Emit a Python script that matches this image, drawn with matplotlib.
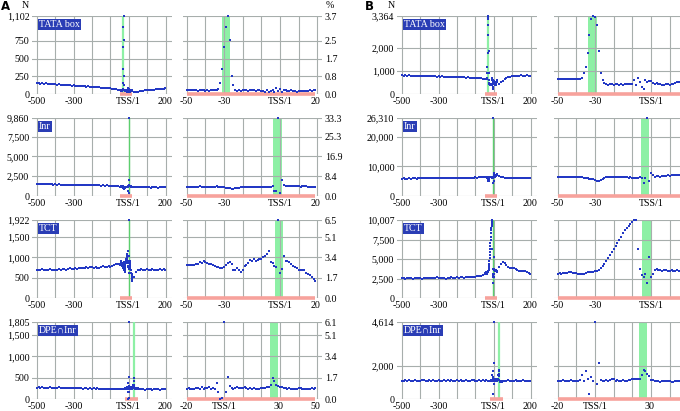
import matplotlib
matplotlib.use("Agg")
import matplotlib.pyplot as plt

W, H = 680, 411
fig = plt.figure(figsize=(W / 100, H / 100), dpi=100)

SERIF = ['Liberation Serif', 'DejaVu Serif']
BLUE = '#2338c4'
BOX = '#2a3db5'
GRID = '#a7aeac'
RED = '#f7a29c'
GREEN = '#8df0a5'
GREEN_DARK = '#5ccf6e'

# ---------------- positions (relative to TSS, no position 0) ----------------
pos_far_up = list(range(-500, -59, 10))
pos_zoom = list(range(-50, 0)) + list(range(1, 21))
pos_far_dn = list(range(30, 201, 10))
pos_far_up_dpe = list(range(-500, -29, 10))
pos_zoom_dpe = list(range(-20, 0)) + list(range(1, 51))
pos_far_dn_dpe = list(range(60, 201, 10))

motifs = ['TATA box', 'Inr', 'TCT', 'DPE∩Inr']

# ---------------- panel A ----------------
A_TATA_far_up = [150, 160, 140, 155, 145, 150, 138, 148, 140, 135, 142, 130, 138, 128, 133,
                 125, 130, 122, 127, 118, 125, 115, 120, 112, 116, 108, 112, 104, 108, 100,
                 104, 96, 100, 92, 95, 88, 90, 84, 86, 80, 82, 76, 72, 68, 62]
A_TATA_zoom = [55, 60, 52, 58, 50, 55, 48, 52, 55, 50, 45, 52, 48, 55, 58, 50, 62, 70,
               160, 355, 670, 940, 1102, 757, 255, 128,
               60, 45, 50, 48, 52, 50, 55, 48, 52, 58, 50, 45, 55, 50, 48, 40, 35, 55, 30, 45, 60, 25, 80, 40,
               65, 30, 55, 50, 45, 40, 52, 45, 38, 35, 42, 40, 45, 38, 42, 48, 50, 45, 60, 52]
A_TATA_far_dn = [32, 28, 35, 40, 45, 48, 52, 50, 55, 58, 60, 62, 65, 68, 70, 72, 76, 80]

A_Inr_far_up = [1520, 1490, 1510, 1480, 1500, 1470, 1490, 1460, 1480, 1450, 1470, 1440, 1460, 1430, 1450,
                1420, 1440, 1410, 1430, 1400, 1420, 1390, 1410, 1380, 1400, 1370, 1390, 1360, 1380, 1350,
                1370, 1340, 1360, 1330, 1350, 1320, 1340, 1310, 1330, 1300, 1320, 1290, 1280, 1260, 1250]
A_Inr_zoom = [1180, 1150, 1200, 1170, 1160, 1190, 1200, 1220, 1180, 1150, 1170, 1200, 1180, 1160, 1150,
              1190, 1210, 1180, 1200, 1150, 1100, 1050, 1000, 960,
              920, 900, 950, 1000, 1060,
              1100, 1120, 1150, 1140, 1170, 1180, 1150, 1130, 1160, 1190, 1170, 1150, 1140, 1160, 1180,
              1170, 1200, 1300,
              650, 630, 9860,
              420, 2020, 1400, 1300, 1250, 1280, 1240, 1260, 1220, 1250, 1230, 1200, 1240, 1210, 1220,
              1190, 1200, 1180, 1170, 1150]
A_Inr_far_dn = [1120, 1100, 1130, 1090, 1110, 1080, 1100, 1090, 1110, 1070, 1100, 1080, 1090, 1070, 1100,
                1080, 1090, 1100]

A_TCT_far_up = [690, 700, 680, 710, 690, 700, 685, 705, 690, 680, 700, 690, 710, 695, 705,
                720, 700, 715, 730, 710, 725, 740, 720, 735, 750, 730, 745, 760, 740, 755,
                770, 745, 760, 750, 740, 765, 780, 760, 775, 790, 770, 800, 810, 830, 850]
A_TCT_zoom = [820, 815, 825, 818, 822, 830, 850, 880, 860, 900,
              880, 860, 850, 830, 810, 790, 775, 770, 750, 730,
              760, 820, 860, 878, 850, 700, 689, 740, 700, 648,
              700, 790, 820, 860, 930, 900, 952, 900, 930, 950,
              960, 1000, 1030, 1080, 1163, 880, 853, 800, 760, 1922,
              623, 720, 1033, 900, 918, 880, 850, 800, 770, 740,
              700, 690, 700, 680, 620, 600, 560, 510, 470, 430]
A_TCT_far_dn = [520, 640, 700, 690, 710, 700, 680, 720, 700, 690, 710, 700, 680, 700, 720, 690, 710, 700]

A_DPE_far_up = [265, 270, 255, 275, 260, 268, 258, 272, 262, 255, 268, 260, 270, 255, 262, 258,
                265, 250, 260, 255, 262, 250, 258, 248, 255, 245, 252, 258, 245, 250, 240, 248,
                242, 250, 238, 245, 240, 235, 242, 230, 238, 228, 235, 225, 232, 240, 225, 230]
A_DPE_zoom = [226, 250, 235, 230, 240, 250, 250, 245, 273, 230, 260, 250, 273, 240, 250, 230,
              367, 172, 0, 16,
              1805, 172, 507, 304,
              250, 240, 260, 273, 260, 255, 262, 280, 262, 240, 250, 226, 250, 230, 240, 226, 250, 255,
              262, 270, 280,
              335, 491, 413, 330, 304,
              290, 270, 262, 250, 240, 250, 226, 230, 226, 240, 250, 250, 226, 240, 230, 226, 226, 250,
              240, 250]
A_DPE_far_dn = [240, 225, 230, 220, 235, 225, 230, 220, 240, 225, 230, 220, 235, 225, 230]

A_yticks = [[0, 250, 500, 750, 1102], [0, 2500, 5000, 7500, 9860],
            [0, 500, 1000, 1500, 1922], [0, 500, 1000, 1500, 1805]]
A_pct = [['0.0', '0.8', '1.7', '2.5', '3.7'], ['0.0', '8.4', '16.9', '25.3', '33.3'],
         ['0.0', '1.7', '3.4', '5.1', '6.5'], ['0.0', '1.7', '3.4', '5.1', '6.1']]
# motif bands in index units of the zoomed axis
A_band = [(-30.9, -26.6), (-3.5, 0.9), (-2.6, 1.7), (24.6, 29.0)]

# ---------------- panel B ----------------
B_TATA_far_up = [800, 790, 810, 795, 800, 785, 790, 780, 795, 775, 785, 770, 780, 765, 775,
                 760, 770, 755, 765, 750, 760, 745, 755, 740, 750, 735, 745, 730, 740, 725,
                 735, 720, 730, 715, 725, 710, 720, 700, 710, 695, 700, 680, 690, 670, 660]
B_TATA_zoom = [650, 640, 660, 630, 645, 650, 635, 640, 655, 630, 640, 650, 660,
               700, 907, 1156, 1756, 2544, 3218, 3364, 3320, 2955, 1858, 907, 620, 468,
               420, 400, 410, 420, 400, 410, 420, 405, 410, 400, 415, 420, 430, 450, 420, 590, 385, 680,
               500, 297, 208, 622, 503, 540,
               547, 474, 450, 474, 430, 420, 400, 400, 410, 420, 400, 420, 450, 474, 500, 520, 547, 560,
               580, 600]
B_TATA_far_dn = [450, 520, 580, 650, 700, 730, 750, 770, 780, 760, 790, 770, 800, 780, 790, 800, 780, 790]

B_Inr_far_up = [5900, 5950, 5850, 5900, 5950, 5880, 5920, 5960, 5900, 5950, 6000, 5950, 5980, 6020, 5960,
                6000, 6050, 5990, 6030, 6080, 6020, 6060, 6100, 6040, 6080, 6120, 6060, 6100, 6150, 6090,
                6130, 6180, 6120, 6160, 6200, 6150, 6190, 6240, 6180, 6220, 6260, 6200, 6250, 6300, 6350]
B_Inr_zoom = [6500, 6550, 6450, 6500, 6480, 6520, 6450, 6400, 6480, 6420, 6380, 6350, 6300, 6250, 6200,
              6100, 6000, 5900, 5800, 5600, 5400, 5200, 5055, 5300, 5800,
              6200, 6400, 6500, 6550, 6450, 6500, 6420, 6380, 6400, 6350, 6300, 6380, 6250, 6200, 6300,
              6150, 6200, 6100, 6150, 6250,
              6000, 4490, 5950, 26310, 5170,
              7860, 7070, 6500, 6600, 6700, 6500, 6650, 6750, 6800, 7000, 6900, 7100, 6950, 7000, 7200,
              7100, 7300, 7200, 7400, 7300]
B_Inr_far_dn = [6800, 6500, 6300, 6200, 6100, 6200, 6000, 6100, 6200, 6050, 6150, 6000, 6100, 6200, 6050,
                6150, 6100, 6200]

B_TCT_far_up = [2550, 2600, 2500, 2580, 2520, 2560, 2500, 2540, 2580, 2520, 2560, 2500, 2540, 2600, 2550,
                2580, 2620, 2560, 2600, 2640, 2580, 2620, 2560, 2600, 2480, 2560, 2600, 2640, 2580, 2620,
                2660, 2600, 2640, 2680, 2620, 2660, 2700, 2640, 2700, 2740, 2700, 2760, 2800, 2850, 2950]
B_TCT_zoom = [3100, 3150, 3100, 3150, 3200, 3250, 3300, 3300, 3250, 3200, 3150, 3100, 3100, 3050, 3100,
              3200, 3300, 3350, 3300, 3350,
              3400, 3500, 3650, 3850, 4100, 4400, 4750, 5100, 5500, 5900, 6300, 6700, 7000, 7400, 7800,
              8300, 8700, 9000, 9300, 9550, 9800, 10000,
              10007, 6330, 3770, 2920, 2700, 3130, 1930, 5260,
              2700, 3130, 3550, 3680, 3600, 3550, 3500, 3600, 3550, 3450, 3500, 3550, 3400, 3500, 3600,
              3450, 3500, 3400, 3350, 3450]
B_TCT_far_dn = [4000, 4400, 4600, 4500, 4200, 4000, 3900, 3800, 3850, 3700, 3600, 3500, 3450, 3500, 3400,
                3300, 3200, 3100]

B_DPE_far_up = [1100, 1080, 1120, 1090, 1110, 1070, 1100, 1120, 1080, 1100, 1090, 1110, 1130, 1080, 1100, 1120,
                1090, 1110, 1080, 1100, 1120, 1090, 1100, 1130, 1080, 1110, 1090, 1120, 1100, 1080, 1110, 1090,
                1130, 1100, 1080, 1120, 1100, 1090, 1110, 1140, 1080, 1100, 1120, 1090, 1110, 1100, 1130, 1090]
B_DPE_zoom = [1080, 1100, 1060, 1120, 1080, 1050, 1100, 1150, 1080, 1060, 1100, 1080, 1120,
              1420, 1100, 1660, 1200, 325, 1320, 1050,
              4614, 925, 2130, 1130,
              1080, 1100, 1120, 1100, 1150, 1220, 1180, 1100, 1120, 1080, 1100, 1150, 1100, 1080, 1120,
              1150, 1180, 1200, 1180, 1220,
              1220, 1420, 1720, 1660, 1500, 1380, 1160,
              1150, 1100, 1080, 1050, 1020, 1050, 1080, 1100, 1080, 1050, 1020, 1000, 1050, 1080, 1050,
              1020, 1050, 1080, 1100]
B_DPE_far_dn = [1100, 1080, 1120, 1090, 1100, 1070, 1110, 1090, 1100, 1080, 1120, 1090, 1100, 1080, 1070]

B_yticks = [[0, 1000, 2000, 3364], [0, 10000, 20000, 26310],
            [0, 2500, 5000, 7500, 10007], [0, 2000, 4614]]
B_band = [(-33.8, -29.1), (-5.2, -1.1), (-4.9, 0.4), (23.7, 28.1)]

A_data = [(A_TATA_far_up, A_TATA_zoom, A_TATA_far_dn), (A_Inr_far_up, A_Inr_zoom, A_Inr_far_dn),
          (A_TCT_far_up, A_TCT_zoom, A_TCT_far_dn), (A_DPE_far_up, A_DPE_zoom, A_DPE_far_dn)]
B_data = [(B_TATA_far_up, B_TATA_zoom, B_TATA_far_dn), (B_Inr_far_up, B_Inr_zoom, B_Inr_far_dn),
          (B_TCT_far_up, B_TCT_zoom, B_TCT_far_dn), (B_DPE_far_up, B_DPE_zoom, B_DPE_far_dn)]


def idx(p):
    return p if p < 0 else p - 1


rows = [(16, 94), (118, 196), (220, 298), (322, 399)]
FS = 7.2


def make_ax(x0, x1, y0, y1):
    ax = fig.add_axes([x0 / W, 1 - y1 / H, (x1 - x0) / W, (y1 - y0) / H])
    for s in ax.spines.values():
        s.set_visible(False)
    ax.tick_params(length=0, labelsize=FS, pad=2)
    ax.set_facecolor('none')
    return ax


def style_labels(ax):
    for t in ax.get_xticklabels() + ax.get_yticklabels():
        t.set_fontfamily(SERIF)


def draw_column(data, yticks, bands, cols, pct=None, clip_last=False):
    (lx0, lx1), (rx0, rx1) = cols
    for r, ((fu, zm, fd), yt, band) in enumerate(zip(data, yticks, bands)):
        y0, y1 = rows[r]
        dpe = (r == 3)
        pu = pos_far_up_dpe if dpe else pos_far_up
        pz = pos_zoom_dpe if dpe else pos_zoom
        pd = pos_far_dn_dpe if dpe else pos_far_dn
        assert len(fu) == len(pu) and len(zm) == len(pz) and len(fd) == len(pd), (r, len(fu), len(zm), len(fd))
        top = yt[-1]
        # ---- left (wide) panel ----
        ax = make_ax(lx0, lx1, y0, y1)
        ax.set_xlim(-526, 235)
        ax.set_ylim(0, top)
        for g in range(-500, 201, 100):
            ax.axvline(g, color=GRID, lw=0.8, zorder=1)
        for t in yt:
            ax.axhline(t, color=GRID, lw=0.8, zorder=1)
        if r in (1, 2):
            ax.axvline((band[0] + band[1]) / 2, color=GREEN_DARK, lw=1.0, zorder=1.5)
        else:
            ax.axvline((band[0] + band[1]) / 2, color=GREEN, lw=1.6, zorder=1.5)
        zx = [idx(p) for p in pz]
        ax.plot([zx[0], zx[-1]], [0, 0], color=RED, lw=2.6, solid_capstyle='butt', zorder=2, clip_on=False)
        xs = [idx(p) for p in pu] + zx + [idx(p) for p in pd]
        ys = list(fu) + list(zm) + list(fd)
        ax.scatter(xs, ys, s=4, marker='s', color=BLUE, linewidths=0, zorder=3, clip_on=False)
        ax.set_yticks(yt)
        ax.set_yticklabels([f'{t:,}' for t in yt])
        ax.set_xticks([-500, -300, 0, 199])
        ax.set_xticklabels(['-500', '-300', 'TSS/1', '200'])
        style_labels(ax)
        ax.text(7 / (lx1 - lx0), 1 - 4 / (y1 - y0), motifs[r], transform=ax.transAxes, ha='left', va='top',
                color='white', fontsize=FS, fontfamily=SERIF, zorder=5,
                bbox=dict(facecolor=BOX, edgecolor='none', boxstyle='square,pad=0.12'))
        # ---- right (zoomed) panel ----
        ax2 = make_ax(rx0, rx1, y0, y1)
        if dpe:
            ax2.set_xlim(-22, 52.5)
            grids = range(-20, 51, 10)
            xt, xl = [-20, 0, 29, 49], ['-20', 'TSS/1', '30', '50']
        else:
            ax2.set_xlim(-52, 22.5)
            grids = range(-50, 21, 10)
            xt, xl = [-50, -30, 0, 19], ['-50', '-30', 'TSS/1', '20']
        if clip_last:
            # the last tick label lies beyond the right edge of the figure
            xt, xl = xt[:-1], xl[:-1]
        ax2.set_ylim(0, top)
        ax2.axvspan(band[0], band[1], color=GREEN, lw=0, zorder=1)
        for g in grids:
            ax2.axvline(g, color=GRID, lw=0.8, zorder=1.5)
        for t in yt:
            ax2.axhline(t, color=GRID, lw=0.8, zorder=1.5)
        ax2.plot([zx[0], zx[-1]], [0, 0], color=RED, lw=2.6, solid_capstyle='butt', zorder=2, clip_on=False)
        ax2.scatter(zx, zm, s=4, marker='s', color=BLUE, linewidths=0, zorder=3, clip_on=False)
        ax2.set_xticks(xt)
        ax2.set_xticklabels(xl)
        ax2.set_yticks(yt)
        if pct is not None:
            ax2.yaxis.tick_right()
            ax2.set_yticklabels(pct[r])
            ax2.tick_params(axis='y', pad=2)
        else:
            ax2.set_yticklabels([])
        style_labels(ax2)


draw_column(A_data, A_yticks, A_band, [(32, 172), (183, 322)], pct=A_pct)
draw_column(B_data, B_yticks, B_band, [(397, 537), (554, 693)], clip_last=True)


def ftext(x, y, s, **kw):
    fig.text(x / W, 1 - y / H, s, **kw)


ftext(1, 7, 'A', fontsize=8.5, fontweight='bold', fontfamily='DejaVu Sans', va='center', ha='left')
ftext(365, 7, 'B', fontsize=8.5, fontweight='bold', fontfamily='DejaVu Sans', va='center', ha='left')
ftext(25, 6, 'N', fontsize=FS, fontfamily=SERIF, va='center', ha='center')
ftext(391, 6, 'N', fontsize=FS, fontfamily=SERIF, va='center', ha='center')
ftext(330, 6, '%', fontsize=FS, fontfamily=SERIF, va='center', ha='center')

fig.savefig('out.png', dpi=100)
